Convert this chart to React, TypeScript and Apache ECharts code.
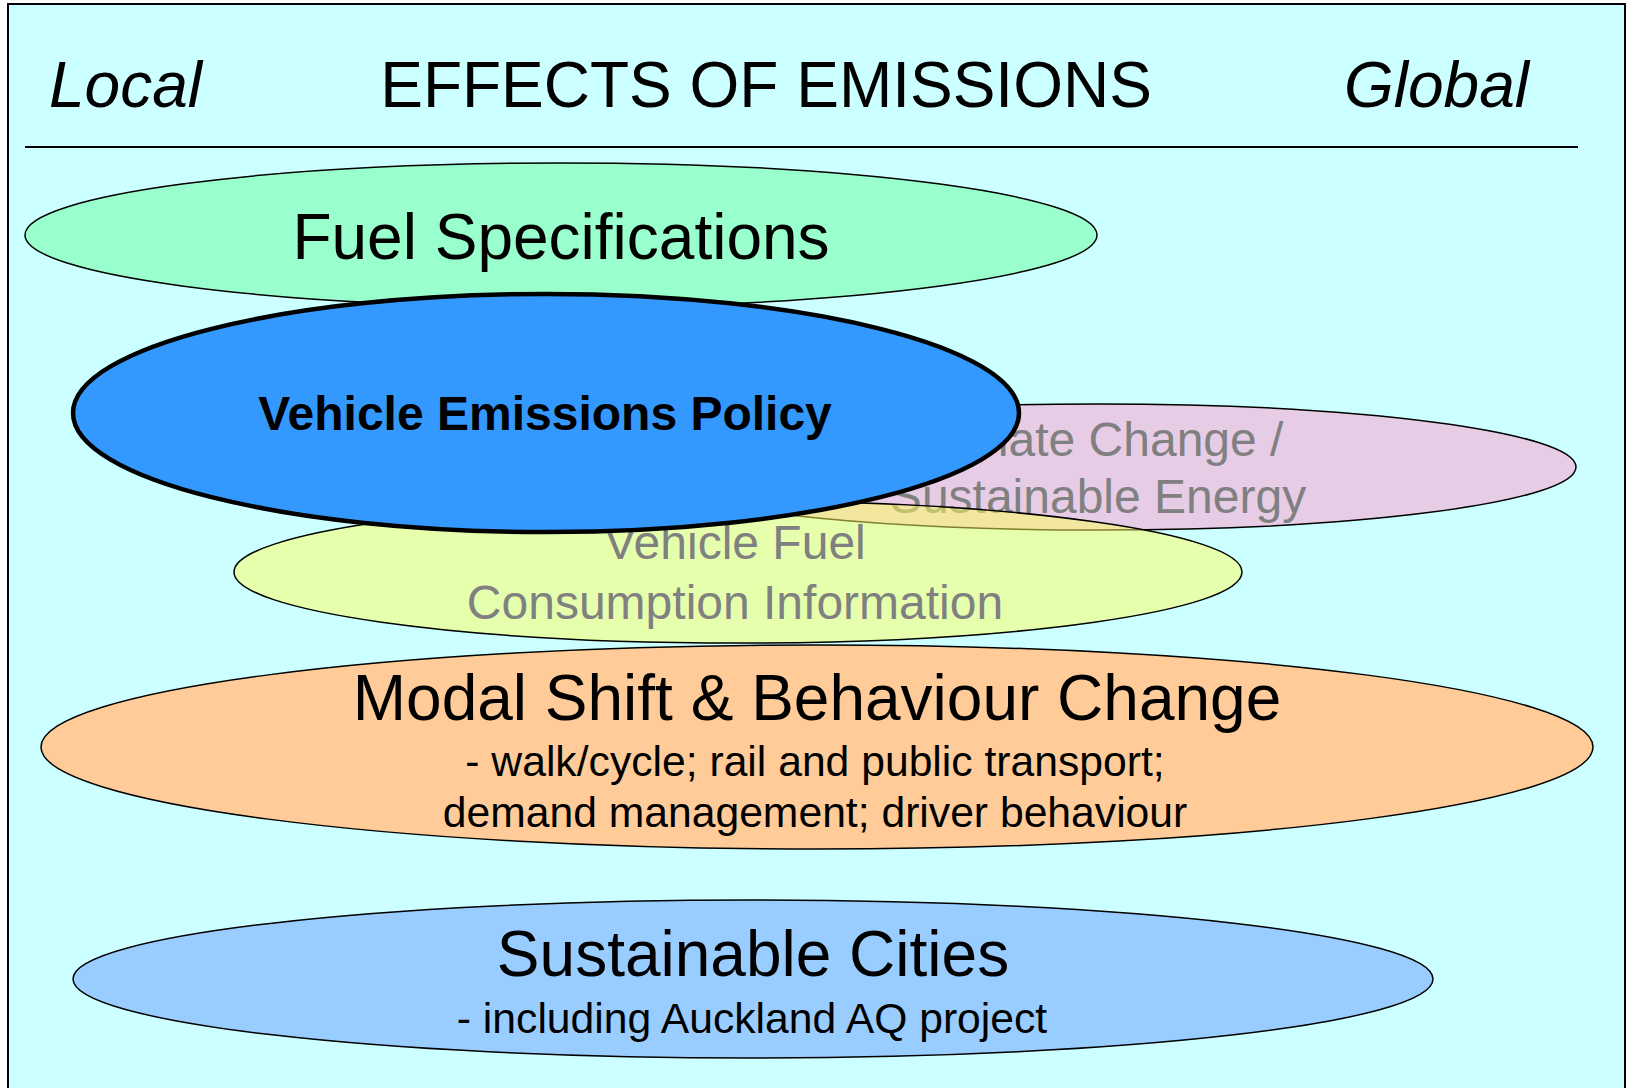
import React, { useEffect, useRef } from "react";
import * as echarts from "echarts";

// ---- content ----
const headerLeft = "Local";
const headerTitle = "EFFECTS OF EMISSIONS";
const headerRight = "Global";

// draw order: back to front
const ovalTitleLines: string[][] = [
  ["Fuel Specifications"],
  ["Climate Change /", "Sustainable Energy"],
  ["Vehicle Fuel", "Consumption Information"],
  ["Vehicle Emissions Policy"],
  ["Modal Shift & Behaviour Change"],
  ["Sustainable Cities"],
];
const ovalSubLines: string[][] = [
  [],
  [],
  [],
  [],
  ["- walk/cycle; rail and public transport;", "demand management; driver behaviour"],
  ["- including Auckland AQ project"],
];

// ---- layout (pixels) ----
const ovalCx = [561, 1098, 738, 546, 817, 753];
const ovalCy = [235, 467, 572, 413, 747, 979];
const ovalRx = [536, 478, 504, 473, 776, 680];
const ovalRy = [72, 63, 71, 119, 102, 79];
const textCx = [561, 1098, 735, 545, 817, 753];
const titleBaseline = [259, 456.7, 559, 430, 720, 976.7];
const titleGap = [0, 57, 60, 0, 0, 0];
const subBaseline = [0, 0, 0, 0, 776, 1033];
const subCx = [0, 0, 0, 0, 815, 752];
const subGap = 50.7;

// ---- styles ----
const ovalFill = [
  "#99FFCC",
  "rgba(255,153,204,0.5)",
  "rgba(255,255,90,0.5)",
  "#3399FF",
  "#FFCC99",
  "#99CCFF",
];
const ovalStrokeW = [1.5, 1.5, 1.5, 4.5, 1.5, 1.5];
const titleSize = [64, 48, 48, 48, 64, 64];
const titleWeight = ["normal", "normal", "normal", "bold", "normal", "normal"];
const titleColor = ["#000000", "#808080", "#808080", "#000000", "#000000", "#000000"];
const subSize = 42.67;
const FONT = '"Liberation Sans", Arial, Helvetica, sans-serif';

const mid = (baseline: number, fs: number) => baseline - 0.35 * fs;

export default function App() {
  const ref = useRef<HTMLDivElement>(null);
  useEffect(() => {
    if (!ref.current) return;
    const chart = echarts.init(ref.current, undefined, { renderer: "svg" });
    const els: any[] = [];
    let z = 1;
    els.push({
      type: "rect",
      z: z++,
      shape: { x: 8, y: 4, width: 1617, height: 1100 },
      style: { fill: "#CCFFFF", stroke: "#000", lineWidth: 2 },
    });
    els.push({
      type: "line",
      z: z++,
      shape: { x1: 25, y1: 147, x2: 1578, y2: 147 },
      style: { stroke: "#000", lineWidth: 2 },
    });
    const headerY = mid(107, 64);
    els.push({
      type: "text", z: z++, x: 49, y: headerY,
      style: { text: headerLeft, font: `italic 64px ${FONT}`, fill: "#000", align: "left", verticalAlign: "middle" },
    });
    els.push({
      type: "text", z: z++, x: 766, y: headerY,
      style: { text: headerTitle, font: `64px ${FONT}`, fill: "#000", align: "center", verticalAlign: "middle" },
    });
    els.push({
      type: "text", z: z++, x: 1529, y: headerY,
      style: { text: headerRight, font: `italic 64px ${FONT}`, fill: "#000", align: "right", verticalAlign: "middle" },
    });
    ovalTitleLines.forEach((lines, i) => {
      els.push({
        type: "ellipse",
        z: z++,
        shape: { cx: ovalCx[i], cy: ovalCy[i], rx: ovalRx[i], ry: ovalRy[i] },
        style: { fill: ovalFill[i], stroke: "#000", lineWidth: ovalStrokeW[i] },
      });
      lines.forEach((line, k) => {
        els.push({
          type: "text",
          z: z++,
          x: textCx[i],
          y: mid(titleBaseline[i] + k * titleGap[i], titleSize[i]),
          style: {
            text: line,
            font: `${titleWeight[i]} ${titleSize[i]}px ${FONT}`,
            fill: titleColor[i],
            align: "center",
            verticalAlign: "middle",
          },
        });
      });
      ovalSubLines[i].forEach((line, k) => {
        els.push({
          type: "text",
          z: z++,
          x: subCx[i],
          y: mid(subBaseline[i] + k * subGap, subSize),
          style: {
            text: line,
            font: `${subSize}px ${FONT}`,
            fill: "#000",
            align: "center",
            verticalAlign: "middle",
          },
        });
      });
    });
    chart.setOption({ animation: false, backgroundColor: "#ffffff", graphic: { elements: els } });
    return () => chart.dispose();
  }, []);
  return (
    <div
      ref={ref}
      style={{ position: "fixed", left: 0, top: 0, width: 1627, height: 1088, background: "#fff" }}
    />
  );
}
